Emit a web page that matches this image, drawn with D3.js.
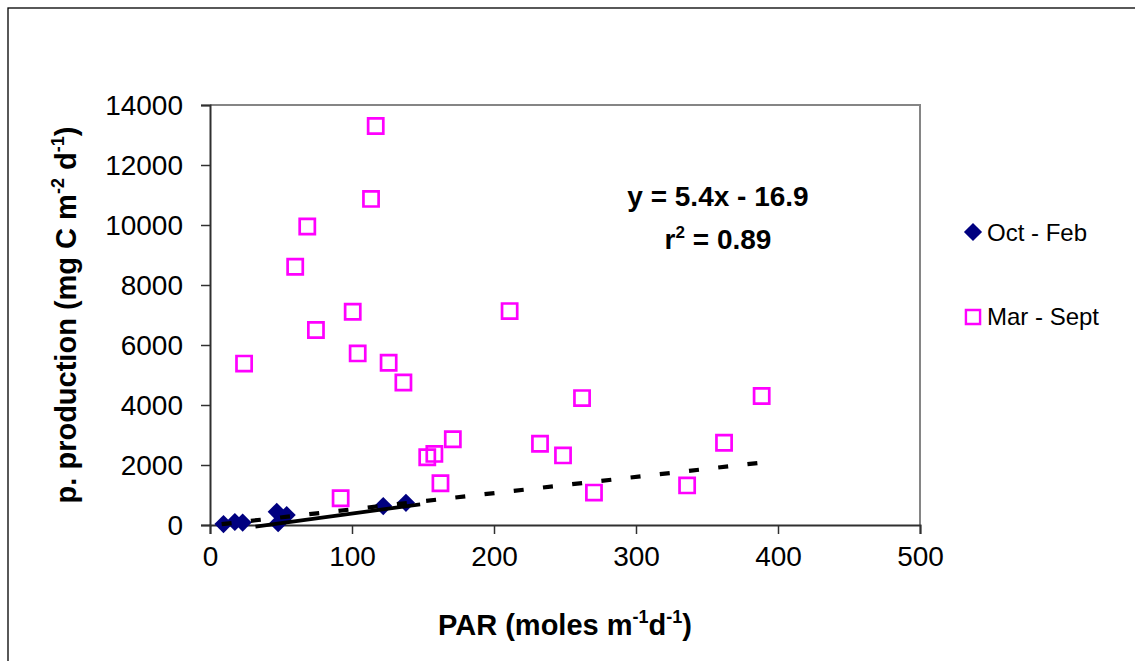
<!DOCTYPE html>
<html>
<head>
<meta charset="utf-8">
<script src="https://cdn.jsdelivr.net/npm/d3@7"></script>
<style>
  html, body { margin: 0; padding: 0; background: #fff; }
  svg { display: block; font-family: "Liberation Sans", Arial, sans-serif; }
</style>
</head>
<body>
<svg id="chart" width="1135" height="661"></svg>
<script>
// ---- data ----
const seriesNames = ["Oct - Feb", "Mar - Sept"];
const octFebPAR  = [9.5, 17.5, 23, 47, 48, 54, 122, 138];
const octFebProd = [30, 100, 80, 440, 60, 330, 630, 740];
const marSepPAR  = [24, 60, 68.5, 74.6, 92, 100.5, 104, 113.4, 116.7, 125.8, 136.2, 153, 158, 162.3, 171, 211, 232.4, 248.6, 262, 270.4, 336, 362, 388.5];
const marSepProd = [5380, 8610, 9950, 6500, 890, 7110, 5720, 10870, 13300, 5410, 4750, 2260, 2370, 1390, 2860, 7130, 2710, 2320, 4230, 1080, 1320, 2740, 4300];
const xTicks = [0, 100, 200, 300, 400, 500];
const yTicks = [0, 2000, 4000, 6000, 8000, 10000, 12000, 14000];
const trendSlope = 5.4, trendIntercept = -16.9;
const trendRange = [8.2, 387];
const solidTrendPAR = [32, 148];
const solidTrendProd = [-57, 690];
const eqLabel = "y = 5.4x - 16.9";
const r2Value = "0.89";

// ---- layout ----
const svg = d3.select("#chart");
const L = 210, R = 920, T = 105, B = 525;
const x = d3.scaleLinear().domain([0, 500]).range([L, R]);
const y = d3.scaleLinear().domain([0, 14000]).range([B, T]);

// outer frame
svg.append("rect").attr("x", 8).attr("y", 8).attr("width", 1140).attr("height", 700)
  .attr("fill", "none").attr("stroke", "#000").attr("stroke-width", 1.3);

// plot area border (gray top/right)
svg.append("path")
  .attr("d", `M${L},${T}H${R}V${B}`)
  .attr("fill", "none").attr("stroke", "#858585").attr("stroke-width", 2);

// axes
const yAxis = d3.axisLeft(y).tickValues(yTicks).tickSize(9).tickFormat(d3.format("d"));
const gy = svg.append("g").attr("transform", `translate(${L},0)`).call(yAxis);
const xAxis = d3.axisBottom(x).tickValues(xTicks).tickSize(9).tickFormat(d3.format("d"));
const gx = svg.append("g").attr("transform", `translate(0,${B})`).call(xAxis);
[gx, gy].forEach(g => {
  g.select(".domain").attr("stroke", "#303030").attr("stroke-width", 2);
  g.selectAll(".tick line").attr("stroke", "#303030").attr("stroke-width", 1.5);
  g.selectAll(".tick text").attr("fill", "#000").attr("font-size", 28)
    .attr("font-family", "'Liberation Sans', Arial, sans-serif");
});
gy.selectAll(".tick text").attr("x", -27).attr("dy", "0.35em");
gx.selectAll(".tick text").attr("y", 21).attr("dy", "0.71em");

// markers
const diamond = d3.symbol().type(d3.symbolSquare).size(165);
const square = d3.symbol().type(d3.symbolSquare).size(230);

svg.append("g").selectAll("path").data(d3.range(octFebPAR.length)).join("path")
  .attr("d", diamond)
  .attr("transform", i => `translate(${x(octFebPAR[i])},${y(octFebProd[i])}) rotate(45)`)
  .attr("fill", "#000080");

svg.append("g").selectAll("path").data(d3.range(marSepPAR.length)).join("path")
  .attr("d", square)
  .attr("transform", i => `translate(${x(marSepPAR[i])},${y(marSepProd[i])})`)
  .attr("fill", "none").attr("stroke", "#ff00ff").attr("stroke-width", 2.7);

// trendlines
const line = d3.line().x(d => x(d[0])).y(d => y(d[1]));
svg.append("path")
  .datum(trendRange.map(v => [v, trendSlope * v + trendIntercept]))
  .attr("d", line).attr("fill", "none").attr("stroke", "#000")
  .attr("stroke-width", 4.2).attr("stroke-dasharray", "10,19.4");
svg.append("path")
  .datum(solidTrendPAR.map((v, i) => [v, solidTrendProd[i]]))
  .attr("d", line).attr("fill", "none").attr("stroke", "#000")
  .attr("stroke-width", 3.8);

// equation
svg.append("text").attr("x", 718).attr("y", 206).attr("text-anchor", "middle")
  .attr("font-size", 28).attr("font-weight", "bold").text(eqLabel);
const r2 = svg.append("text").attr("x", 718).attr("y", 249).attr("text-anchor", "middle")
  .attr("font-size", 28).attr("font-weight", "bold");
r2.append("tspan").text("r");
r2.append("tspan").attr("font-size", 17).attr("dy", -11).text("2");
r2.append("tspan").attr("dy", 11).text(" = " + r2Value);

// axis titles
const xt = svg.append("text").attr("x", 565).attr("y", 635).attr("text-anchor", "middle")
  .attr("font-size", 29).attr("font-weight", "bold");
xt.append("tspan").text("PAR (moles m");
xt.append("tspan").attr("font-size", 18).attr("dy", -12).text("-1");
xt.append("tspan").attr("dy", 12).text("d");
xt.append("tspan").attr("font-size", 18).attr("dy", -12).text("-1");
xt.append("tspan").attr("dy", 12).text(")");

const yt = svg.append("text").attr("transform", `translate(76,${(T + B) / 2}) rotate(-90)`)
  .attr("text-anchor", "middle").attr("font-size", 29).attr("font-weight", "bold");
yt.append("tspan").text("p. production (mg C m");
yt.append("tspan").attr("font-size", 18).attr("dy", -12).text("-2");
yt.append("tspan").attr("dy", 12).text(" d");
yt.append("tspan").attr("font-size", 18).attr("dy", -12).text("-1");
yt.append("tspan").attr("dy", 12).text(")");

// legend
const lg = svg.append("g");
lg.append("path").attr("d", diamond).attr("transform", "translate(973,232) rotate(45)")
  .attr("fill", "#000080");
lg.append("text").attr("x", 987).attr("y", 240.5).attr("font-size", 24).text(seriesNames[0]);
lg.append("path").attr("d", d3.symbol().type(d3.symbolSquare).size(200))
  .attr("transform", "translate(973,317)")
  .attr("fill", "none").attr("stroke", "#ff00ff").attr("stroke-width", 2.4);
lg.append("text").attr("x", 987).attr("y", 325).attr("font-size", 24).text(seriesNames[1]);
</script>
</body>
</html>
